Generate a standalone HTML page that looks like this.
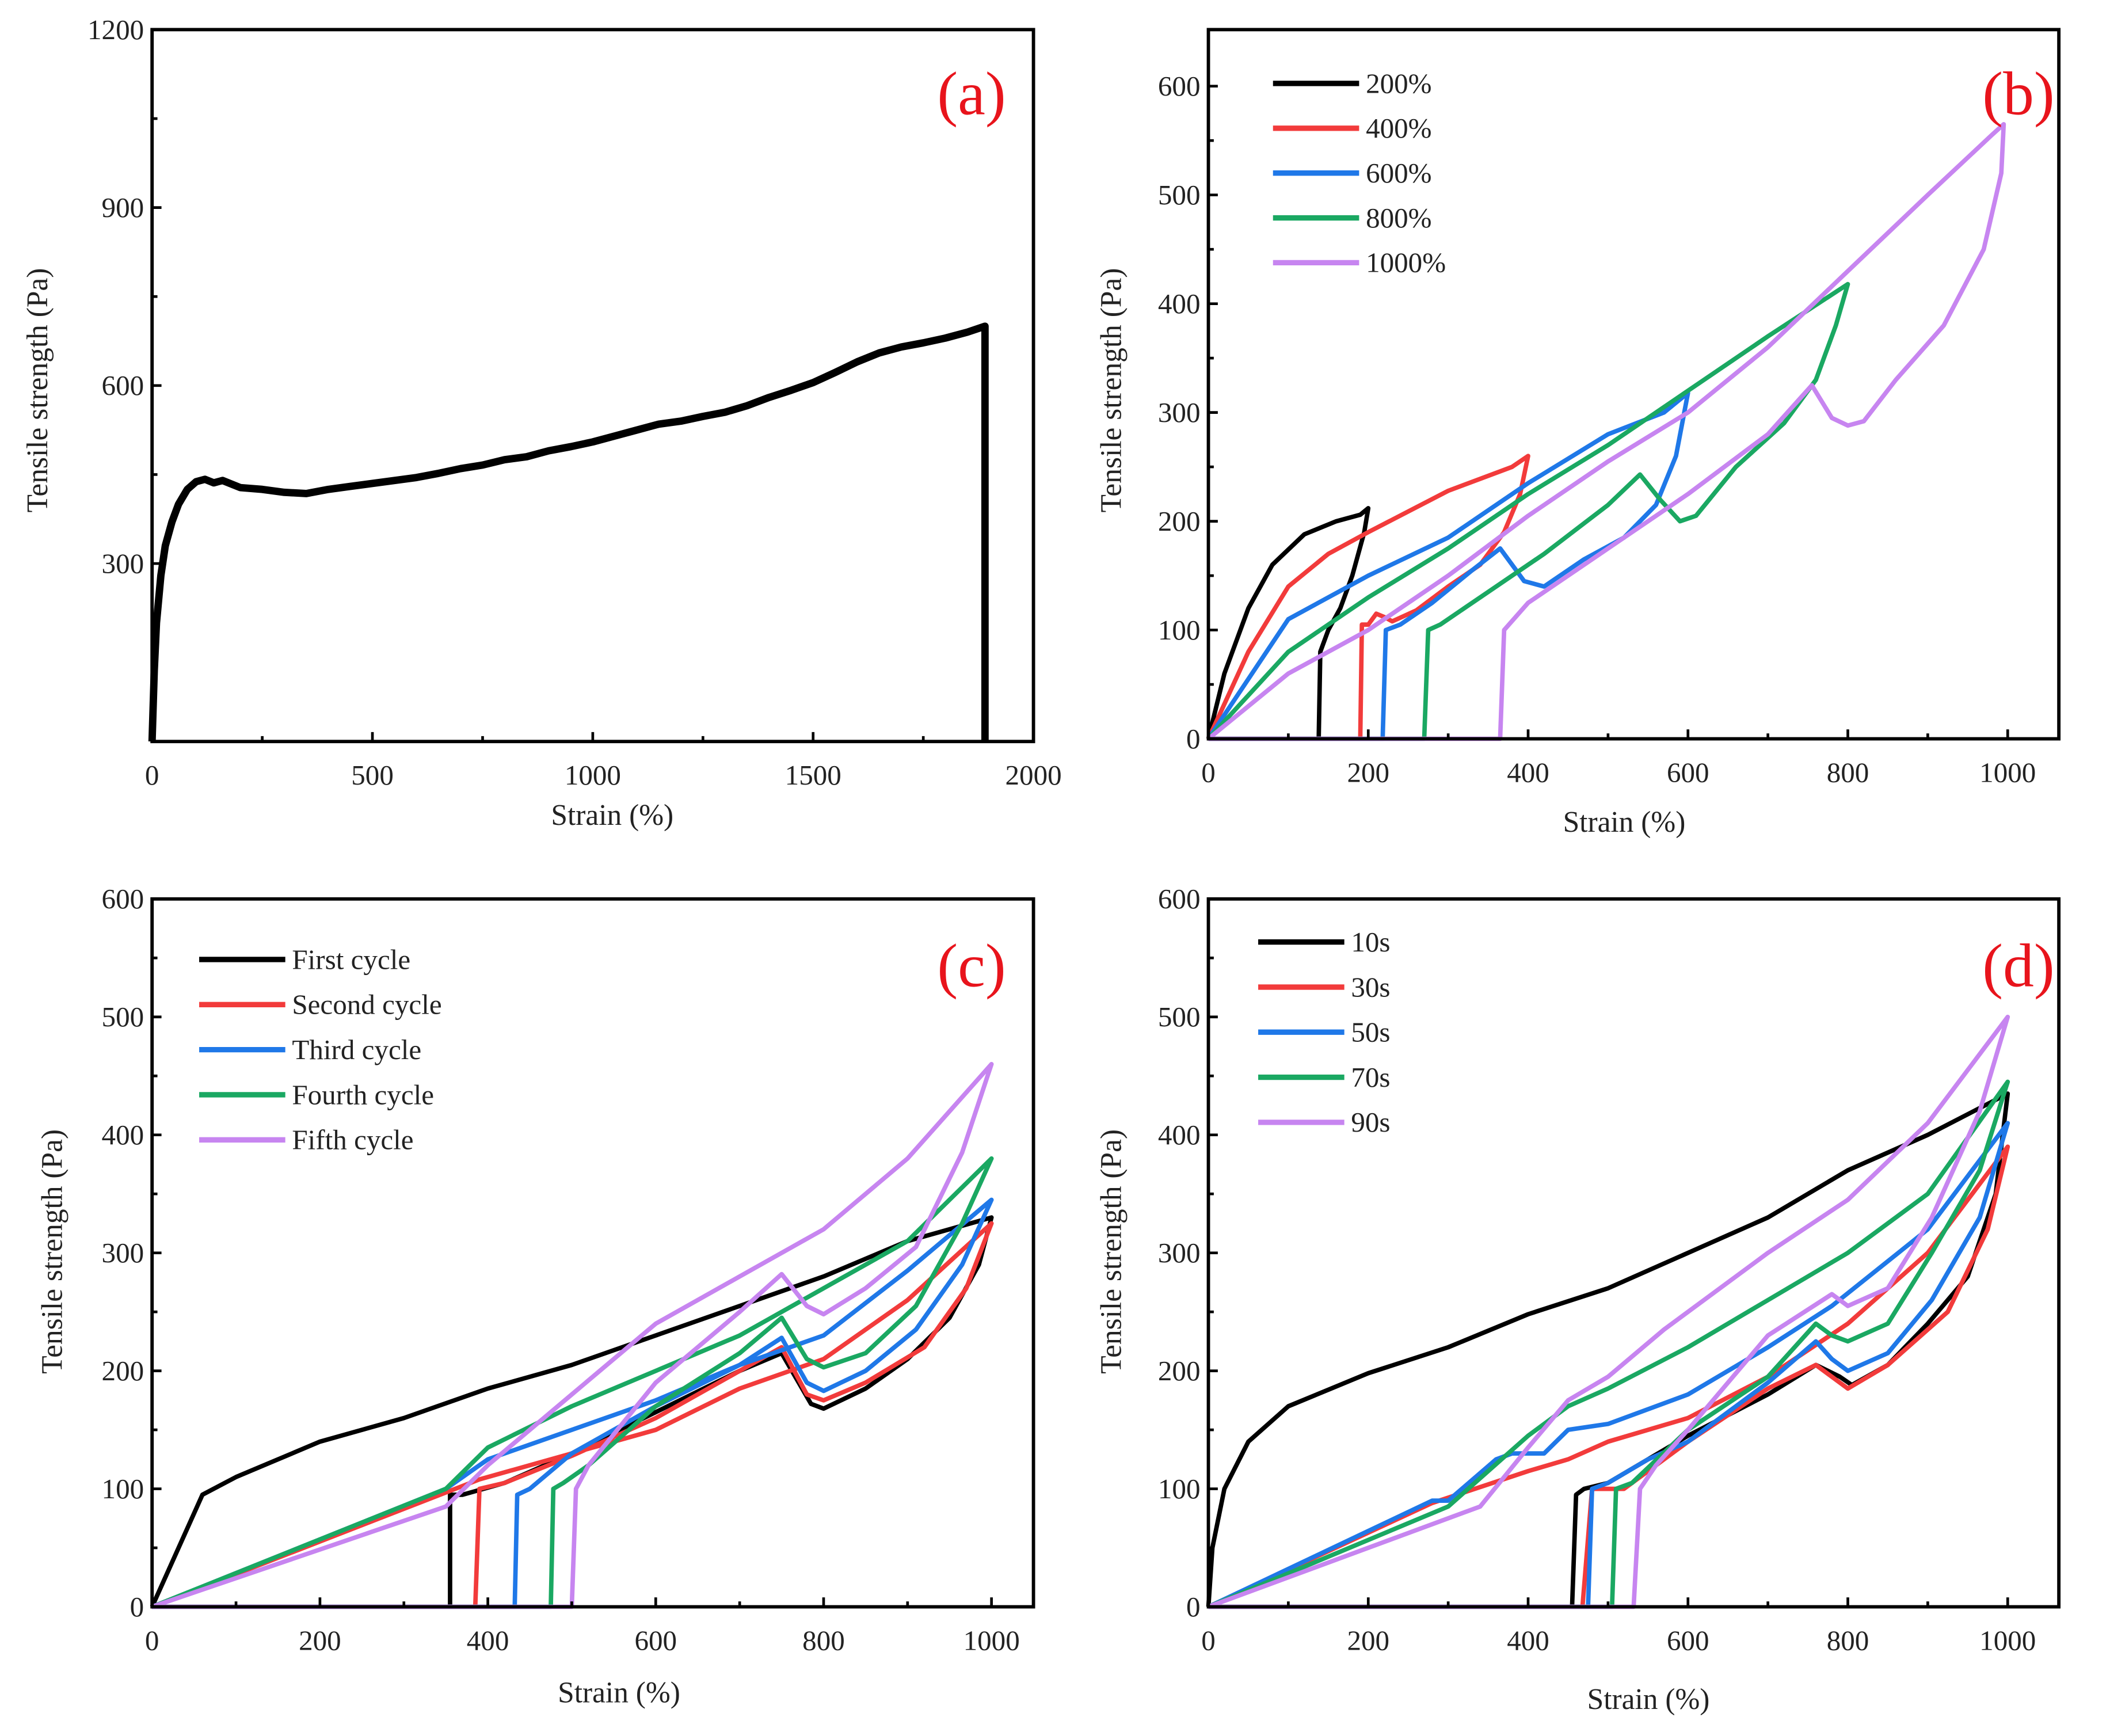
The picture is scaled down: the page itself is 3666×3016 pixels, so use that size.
<!DOCTYPE html>
<html><head><meta charset="utf-8"><style>
html,body{margin:0;padding:0;background:#fff}
svg{display:block}
text{font-family:"Liberation Serif",serif;fill:#222}
</style></head><body>
<svg id="fig" width="3666" height="3016" viewBox="0 0 1568 1290" xmlns="http://www.w3.org/2000/svg"></svg>
<script>
// ---------- data ----------
const aTicksX=[0,500,1000,1500,2000];
const aTicksY=[300,600,900,1200];
const aCurve=[[0,0],[5,120],[10,200],[20,280],[30,330],[45,370],[60,400],[80,425],[100,438],[120,442],[140,436],[160,440],[200,428],[250,425],[300,420],[350,418],[400,425],[450,430],[500,435],[550,440],[600,445],[650,452],[700,460],[750,466],[800,475],[850,480],[900,490],[950,497],[1000,505],[1050,515],[1100,525],[1150,535],[1200,540],[1250,548],[1300,555],[1350,566],[1400,580],[1450,592],[1500,605],[1550,622],[1600,640],[1650,655],[1700,665],[1750,672],[1800,680],[1850,690],[1890,700],[1890,0]];

const bTicksX=[0,200,400,600,800,1000];
const bTicksY=[0,100,200,300,400,500,600];
const bNames=["200%","400%","600%","800%","1000%"];
const b200=[[0,0],[20,60],[50,120],[80,160],[120,188],[160,200],[190,206],[200,212],[195,190],[180,150],[165,120],[150,100],[140,80],[138,0],[0,0]];
const b400=[[0,0],[50,80],[100,140],[150,170],[200,190],[300,228],[380,250],[400,260],[390,225],[370,190],[340,160],[300,140],[260,118],[230,108],[220,112],[210,115],[200,105],[192,105],[190,0],[0,0]];
const b600=[[0,0],[100,110],[200,150],[300,185],[400,235],[500,280],[570,300],[600,318],[585,260],[560,215],[520,185],[470,165],[420,140],[395,145],[365,175],[330,155],[280,125],[240,105],[222,100],[218,0],[0,0]];
const b800=[[0,0],[100,80],[200,130],[300,175],[400,225],[500,270],[600,320],[700,370],[800,418],[785,380],[760,330],[720,290],[660,250],[610,205],[590,200],[565,220],[540,243],[500,215],[420,170],[350,135],[290,105],[275,100],[270,0],[0,0]];
const b1000=[[0,0],[100,60],[200,100],[300,150],[400,205],[500,255],[600,300],[700,360],[800,430],[900,500],[980,555],[995,565],[992,520],[970,450],[920,380],[860,330],[820,292],[800,288],[780,295],[755,325],[700,280],[600,225],[500,175],[400,125],[370,100],[365,0],[0,0]];

const cTicksX=[0,200,400,600,800,1000];
const cTicksY=[0,100,200,300,400,500,600];
const cNames=["First cycle","Second cycle","Third cycle","Fourth cycle","Fifth cycle"];
const c1=[[0,0],[60,95],[100,110],[200,140],[300,160],[400,185],[500,205],[600,230],[700,255],[800,280],[900,310],[1000,330],[985,290],[950,245],[900,210],[850,185],[800,168],[785,172],[750,215],[700,200],[600,165],[500,130],[420,105],[370,95],[355,95],[355,0],[0,0]];
const c2=[[0,0],[390,108],[500,130],[600,150],[700,185],[800,210],[900,260],[1000,325],[970,270],[920,220],[850,190],[800,175],[780,180],[750,220],[700,200],[600,160],[500,128],[420,105],[390,100],[385,0],[0,0]];
const c3=[[0,0],[350,100],[400,125],[500,150],[600,175],[700,205],[800,230],[900,285],[1000,345],[965,290],[910,235],[850,200],[800,183],[780,190],[750,228],[700,205],[600,170],[500,130],[450,100],[435,95],[432,0],[0,0]];
const c4=[[0,0],[350,100],[400,135],[500,170],[600,200],[700,230],[800,270],[900,310],[1000,380],[965,325],[910,255],[850,215],[800,203],[780,210],[750,245],[700,215],[600,170],[520,120],[490,105],[478,100],[475,0],[0,0]];
const c5=[[0,0],[350,85],[400,120],[500,180],[600,240],[700,280],[800,320],[900,380],[1000,460],[965,385],[910,305],[850,270],[800,248],[780,255],[750,282],[700,250],[600,190],[520,120],[505,100],[500,0],[0,0]];

const dTicksX=[0,200,400,600,800,1000];
const dTicksY=[0,100,200,300,400,500,600];
const dNames=["10s","30s","50s","70s","90s"];
const d10=[[0,0],[5,50],[20,100],[50,140],[100,170],[200,198],[300,220],[400,248],[500,270],[600,300],[700,330],[800,370],[900,400],[1000,435],[985,350],[950,280],[900,240],[850,205],[805,188],[790,195],[760,205],[700,180],[600,145],[500,105],[470,100],[460,95],[455,0],[0,0]];
const d30=[[0,0],[280,88],[400,115],[450,125],[500,140],[600,160],[700,195],[800,240],[900,300],[1000,390],[975,320],[925,250],[850,205],[800,185],[780,195],[760,205],[700,185],[600,140],[520,100],[480,100],[468,0],[0,0]];
const d50=[[0,0],[280,90],[300,90],[360,125],[380,130],[420,130],[450,150],[500,155],[600,180],[700,220],[780,255],[900,320],[1000,410],[965,330],[905,260],[850,215],[800,200],[780,210],[760,225],[700,190],[600,140],[550,125],[500,105],[480,100],[475,0],[0,0]];
const d70=[[0,0],[300,85],[400,145],[450,170],[500,185],[600,220],[700,260],[800,300],[900,350],[1000,445],[965,370],[905,300],[850,240],[800,225],[780,230],[760,240],[700,195],[600,150],[530,105],[510,100],[505,0],[0,0]];
const d90=[[0,0],[340,85],[400,135],[450,175],[500,195],[570,235],[700,300],[800,345],[900,410],[1000,500],[965,420],[905,330],[850,270],[800,255],[780,265],[700,230],[600,150],[560,120],[540,100],[532,0],[0,0]];

const COLORS=["#000000","#f23b3b","#1f78e8","#1aa862","#c785f0"];
const NS="http://www.w3.org/2000/svg";
const svg=document.getElementById('fig');
function mk(tag,attrs,parent){const e=document.createElementNS(NS,tag);for(const k in attrs)e.setAttribute(k,attrs[k]);(parent||svg).appendChild(e);return e;}

function panel(cfg){
  const g=mk('g',{});
  
  
  const X=v=>cfg.x0+(v-cfg.xmin)/(cfg.xmax-cfg.xmin)*(cfg.x1-cfg.x0);
  const Y=v=>cfg.y1-(v-cfg.ymin)/(cfg.ymax-cfg.ymin)*(cfg.y1-cfg.y0);
  cfg.series.forEach((s,i)=>{
    const p=mk('polyline',{points:s.map(q=>X(q[0]).toFixed(2)+','+Y(q[1]).toFixed(2)).join(' '),fill:'none',stroke:cfg.colors[i],'stroke-width':cfg.sw||3.3,'stroke-linejoin':'round'},g);
    
    
  });
  const fr=mk('rect',{x:cfg.x0,y:cfg.y0,width:cfg.x1-cfg.x0,height:cfg.y1-cfg.y0,fill:'none',stroke:'#000','stroke-width':2.5},g);
  
  
  cfg.tx.forEach((v,i)=>{
    mk('line',{x1:X(v),x2:X(v),y1:cfg.y1,y2:cfg.y1-7,stroke:'#000','stroke-width':2},g);
    if(i<cfg.tx.length-1){const m=(v+cfg.tx[i+1])/2;mk('line',{x1:X(m),x2:X(m),y1:cfg.y1,y2:cfg.y1-4,stroke:'#000','stroke-width':2},g);}
    const t=mk('text',{x:X(v),y:cfg.y1+32,'text-anchor':'middle','font-size':21},g);t.textContent=v;
    
    
  });
  cfg.ty.forEach((v,i)=>{
    mk('line',{x1:cfg.x0,x2:cfg.x0+7,y1:Y(v),y2:Y(v),stroke:'#000','stroke-width':2},g);
    if(i<cfg.ty.length-1){const m=(v+cfg.ty[i+1])/2;mk('line',{x1:cfg.x0,x2:cfg.x0+4,y1:Y(m),y2:Y(m),stroke:'#000','stroke-width':2},g);}
    const t=mk('text',{x:cfg.x0-6,y:Y(v)+7,'text-anchor':'end','font-size':21},g);t.textContent=v;
    
    
  });
  const xt=mk('text',{x:cfg.xtx,y:cfg.xty,'text-anchor':'middle','font-size':22},g);xt.textContent='Strain (%)';
  
  
  const yt=mk('text',{x:0,y:0,'text-anchor':'middle','font-size':22,transform:`translate(${cfg.ytx},${cfg.yty}) rotate(-90)`},g);yt.textContent='Tensile strength (Pa)';
  
  
  const pl=mk('text',{x:cfg.lx,y:cfg.ly,'text-anchor':'middle','font-size':46,style:'fill:#e8141c'},g);pl.textContent=cfg.label;
  
  
  if(cfg.names){
    cfg.names.forEach((n,i)=>{
      const y=cfg.legY+i*cfg.legDy;
      const ln=mk('line',{x1:cfg.legX,x2:cfg.legX+64,y1:y,y2:y,stroke:cfg.colors[i],'stroke-width':4},g);
      
      
      const t=mk('text',{x:cfg.legX+69,y:y+7,'font-size':21},g);t.textContent=n;
      
      
    });
  }
}
panel({id:'a',x0:113,x1:768,y0:22,y1:551,xmin:0,xmax:2000,ymin:0,ymax:1200,tx:aTicksX,ty:aTicksY,series:[aCurve],colors:['#000'],sw:5.5,xtx:455,xty:613,ytx:35,yty:290,lx:722,ly:85,label:'(a)'});
panel({id:'b',x0:898,x1:1530,y0:22,y1:549,xmin:0,xmax:1064,ymin:0,ymax:652,tx:bTicksX,ty:bTicksY,series:[b200,b400,b600,b800,b1000],colors:COLORS,names:bNames,legX:946,legY:62,legDy:33.3,xtx:1207,xty:618,ytx:833,yty:290,lx:1500,ly:85,label:'(b)'});
panel({id:'c',x0:113,x1:768,y0:668,y1:1194,xmin:0,xmax:1050,ymin:0,ymax:600,tx:cTicksX,ty:cTicksY,series:[c1,c2,c3,c4,c5],colors:COLORS,names:cNames,legX:148,legY:713,legDy:33.5,xtx:460,xty:1265,ytx:46,yty:930,lx:722,ly:733,label:'(c)'});
panel({id:'d',x0:898,x1:1530,y0:668,y1:1194,xmin:0,xmax:1064,ymin:0,ymax:600,tx:dTicksX,ty:dTicksY,series:[d10,d30,d50,d70,d90],colors:COLORS,names:dNames,legX:935,legY:700,legDy:33.5,xtx:1225,xty:1270,ytx:833,yty:930,lx:1500,ly:733,label:'(d)'});
</script>
</body></html>
